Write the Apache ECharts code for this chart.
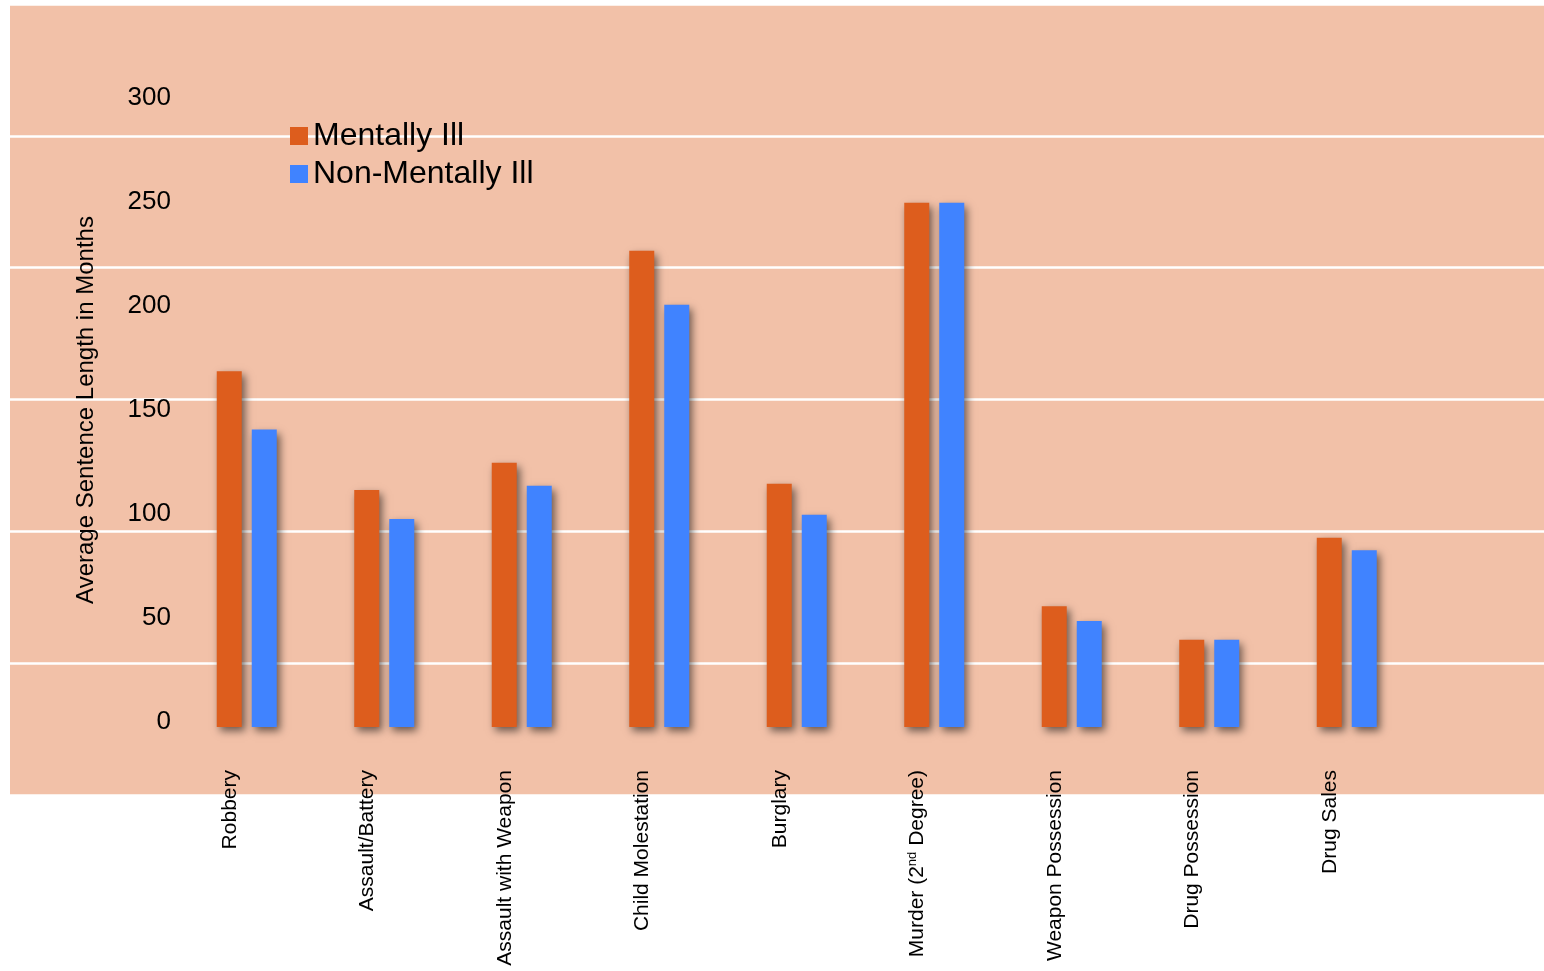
<!DOCTYPE html>
<html>
<head>
<meta charset="utf-8">
<title>Sentence length</title>
<script src="https://cdn.jsdelivr.net/npm/echarts@6/dist/echarts.min.js"></script>
<style>
  html, body { margin: 0; padding: 0; background: #fff; }
  #main { width: 1544px; height: 971px; }
</style>
</head>
<body>
<div id="main"></div>
<script>
var crimes = ['Robbery', 'Assault/Battery', 'Assault with Weapon', 'Child Molestation', 'Burglary',
  'Murder (2nd Degree)', 'Weapon Possession', 'Drug Possession', 'Drug Sales']
var mentally_ill = [171, 114, 127, 229, 117, 252, 58, 42, 91]
var non_mentally_ill = [143, 100, 116, 203, 102, 252, 51, 42, 85]
var y_ticks = [0, 50, 100, 150, 200, 250, 300]

var font = 'Liberation Sans, Arial, Helvetica, sans-serif'

var chart = echarts.init(document.getElementById('main'))

var bar_shadow = {
  shadowBlur: 8,
  shadowColor: 'rgba(0,0,0,0.55)',
  shadowOffsetX: 3,
  shadowOffsetY: 4
}

var hidden_axis = {
  axisLine: { show: false }, axisTick: { show: false }, axisLabel: { show: false },
  splitLine: { show: false }
}

var option = {
  backgroundColor: '#fff',
  animation: false,
  textStyle: { fontFamily: font },
  legend: {
    left: 285,
    top: 114,
    orient: 'vertical',
    icon: 'rect',
    itemWidth: 18,
    itemHeight: 18,
    itemGap: 4,
    itemStyle: { shadowBlur: 0, shadowOffsetX: 0, shadowOffsetY: 0 },
    textStyle: { fontSize: 32, color: '#000', lineHeight: 34, fontFamily: font },
    data: ['Mentally Ill', 'Non-Mentally Ill']
  },
  grid: [
    // pink panel with its own white lines
    { left: 10, right: 0, top: 4, bottom: 176, show: true, backgroundColor: '#f2c1a8', borderWidth: 0 },
    // bars
    { left: 178, right: 128.5, top: 103, bottom: 244 },
    // category labels, sit a bit left of the bars
    { left: 161, right: 145.5, top: 103, bottom: 244 },
    // value labels, sit a bit above the bar scale
    { left: 178, right: 128.5, top: 98, bottom: 249 }
  ],
  xAxis: [
    { gridIndex: 0, type: 'value', min: 0, max: 1, show: false },
    Object.assign({ gridIndex: 1, type: 'category', data: crimes }, hidden_axis),
    {
      gridIndex: 2, type: 'category', data: crimes,
      axisLine: { show: false }, axisTick: { show: false },
      axisLabel: {
        rotate: 90,
        margin: 43,
        interval: 0,
        fontSize: 21,
        color: '#000',
        fontFamily: font,
        formatter: function (v) {
          return v.replace('2nd', '2{sup|nd}')
        },
        rich: {
          sup: { fontSize: 13, color: '#000', fontFamily: font, padding: [0, 0, 10, 0] }
        }
      }
    },
    { gridIndex: 3, type: 'value', min: 0, max: 1, show: false }
  ],
  yAxis: [
    {
      gridIndex: 0, type: 'value', min: 0, max: 6, interval: 1,
      axisLine: { show: false }, axisTick: { show: false }, axisLabel: { show: false },
      splitLine: { show: true, lineStyle: { color: '#fff', width: 2.5 } }
    },
    Object.assign({
      gridIndex: 1, type: 'value', min: 0, max: 300, interval: 50,
      name: 'Average Sentence Length in Months',
      nameLocation: 'middle',
      nameGap: 80,
      nameTextStyle: { fontSize: 24, color: '#000', fontFamily: font, padding: [0, 0, 0, 10] }
    }, hidden_axis),
    { gridIndex: 2, type: 'value', min: 0, max: 300, show: false },
    {
      gridIndex: 3, type: 'value', min: 0, max: 300, interval: 50,
      axisLine: { show: false }, axisTick: { show: false },
      splitLine: { show: false },
      axisLabel: {
        fontSize: 26,
        color: '#000',
        margin: 7,
        fontFamily: font,
        customValues: y_ticks
      }
    }
  ],
  series: [
    {
      name: 'Mentally Ill',
      type: 'bar',
      xAxisIndex: 1,
      yAxisIndex: 1,
      barWidth: 25,
      barGap: '40%',
      itemStyle: Object.assign({ color: '#dd5d1d' }, bar_shadow),
      data: mentally_ill
    },
    {
      name: 'Non-Mentally Ill',
      type: 'bar',
      xAxisIndex: 1,
      yAxisIndex: 1,
      barWidth: 25,
      barGap: '40%',
      itemStyle: Object.assign({ color: '#4083ff' }, bar_shadow),
      data: non_mentally_ill
    }
  ]
}

chart.setOption(option)
</script>
</body>
</html>
